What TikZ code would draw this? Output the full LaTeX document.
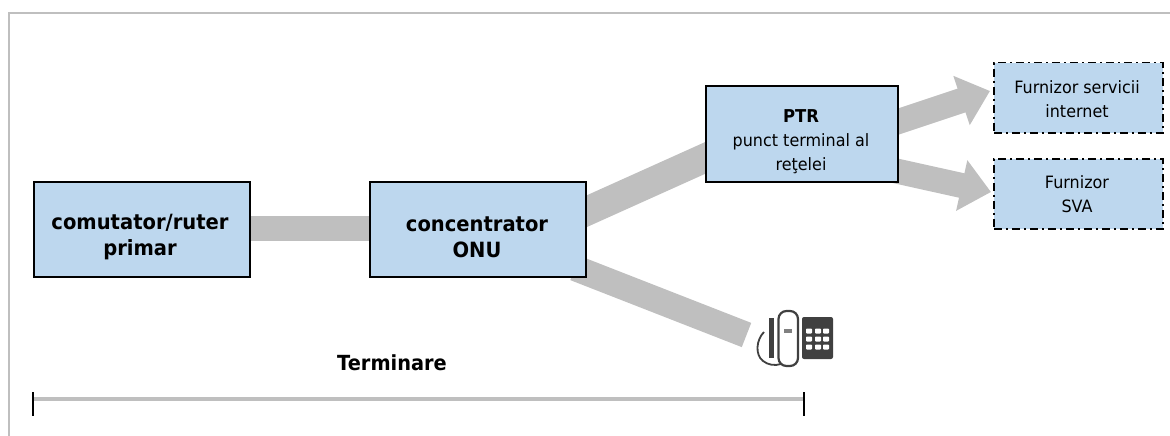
\documentclass[tikz,border=0pt]{standalone}
\usepackage{fontspec}
\setmainfont{DejaVu Sans}
\newfontfamily\regtxt[FakeStretch=0.94]{DejaVu Sans}
\newfontfamily\boldface[FakeStretch=0.93]{DejaVu Sans Bold}
\usetikzlibrary{arrows.meta}
\definecolor{boxblue}{HTML}{BDD7EE}
\definecolor{linkgray}{HTML}{BFBFBF}
\definecolor{phonegray}{HTML}{404040}
\tikzset{
  x=1pt,y=-1pt,
  framelin/.style={draw=linkgray,line width=2pt},
  mainbox/.style={draw=black,fill=boxblue,line width=1.5pt,minimum width=#1,anchor=north west,inner sep=0pt},
  svcbox/.style={draw=black,fill=boxblue,line width=1.5pt,dash pattern=on 8pt off 4pt on 2pt off 4pt,minimum width=169pt,minimum height=70pt,anchor=north west,inner sep=0pt},
  boldtxt/.style={font=\fontsize{21}{26}\selectfont\boldface,align=center,inner sep=0pt},
  smalltxt/.style={font=\fontsize{17}{24}\selectfont\regtxt,align=center,inner sep=0pt},
  link/.style={draw=linkgray,line width=#1},
  arrowlink/.style={draw=linkgray,line width=25pt,-{Triangle[length=30pt,width=50pt,color=linkgray]}},
  tick/.style={draw=black,line width=2pt},
}
\begin{document}
\begin{tikzpicture}
\useasboundingbox (0,0) rectangle (1170,436);
\coordinate (fa) at (9,436); \coordinate (fb) at (9,13.5); \coordinate (fc) at (1170,13.5);
\draw[framelin] (fa) -- (fb) -- (fc);
% port coordinates
\coordinate (c1a) at (248,228.5); \coordinate (c1b) at (369,228.5);
\coordinate (c2a) at (575,216.5); \coordinate (c2b) at (715,153.5);
\coordinate (c3a) at (575,268);   \coordinate (c3b) at (746.5,335);
\coordinate (a1a) at (885,126);   \coordinate (a1b) at (990,91);
\coordinate (a2a) at (885,168.5); \coordinate (a2b) at (991,192);
\draw[link=25pt] (c1a) -- (c1b);
\draw[link=29pt] (c2a) -- (c2b);
\draw[link=26pt] (c3a) -- (c3b);
\draw[arrowlink] (a1a) -- (a1b);
\draw[arrowlink] (a2a) -- (a2b);
% boxes
\node[mainbox=216pt,minimum height=95pt] (rut) at (33,181) {};
\node[mainbox=216pt,minimum height=95pt] (onu) at (369,181) {};
\node[mainbox=192pt,minimum height=96pt] (ptr) at (705,85) {};
\node[svcbox] (isp) at (993,62) {};
\node[svcbox] (sva) at (993,158) {};
% texts
\node[boldtxt] (trut) at (140,237) {comutator/ruter\\primar};
\node[boldtxt] (tonu) at (477,237) {concentrator\\ONU};
\node[smalltxt] (tptr) at (801,142) {{\fontsize{17.7}{24}\selectfont\boldface PTR}\\punct terminal al\\reţelei};
\node[smalltxt] (tisp) at (1077,99) {Furnizor servicii\\internet};
\node[smalltxt] (tsva) at (1077,194) {Furnizor\\SVA};
\node[font=\fontsize{20.8}{24}\selectfont\boldface,inner sep=0pt] (term) at (392,363) {Terminare};
% dimension line
\coordinate (d1) at (33,399); \coordinate (d2) at (804,399);
\draw[link=4.5pt] (d1) -- (d2);
\draw[tick] (33,392) -- (33,416);
\draw[tick] (804,392) -- (804,416);
% phone
\fill[phonegray,rounded corners=2pt] (802,317) rectangle (833,359);
\foreach \px in {809,818,826}
  \foreach \py in {331,339,347}
    \fill[white,rounded corners=0.8pt] (\px-3,\py-2.5) rectangle (\px+3,\py+2.5);
\fill[phonegray] (769,318) rectangle (774,358);
\draw[phonegray,line width=2.2pt,rounded corners=8pt] (778.5,311) rectangle (798,366);
\fill[gray] (784,329) rectangle (792,333);
\draw[phonegray,line width=1.8pt] (764,332) .. controls (756,340) and (755,355) .. (763,361) .. controls (768,365) and (775,366) .. (781,364);
\end{tikzpicture}
\end{document}
